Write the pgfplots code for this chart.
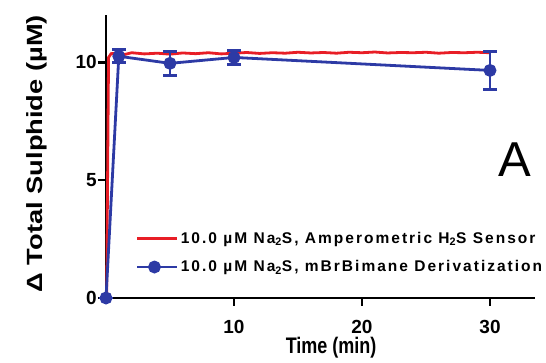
\documentclass[border=0pt]{standalone}
\usepackage{pgfplots}
\pgfplotsset{compat=1.18}
\usepackage{fontspec}
\setmainfont{Liberation Sans}
\newfontfamily\legfont[LetterSpace=13]{Liberation Sans}
\definecolor{cred}{RGB}{232,30,38}
\definecolor{cblue}{RGB}{45,58,165}
\begin{document}
\begin{tikzpicture}
\path[use as bounding box] (-106pt,-65pt) rectangle (440pt,298pt);
\begin{axis}[
  scale only axis, width=428.8pt, height=283pt,
  xmin=0, xmax=33.5, ymin=0, ymax=12,
  axis lines=left,
  axis line style={-, line width=2.8pt, black},
  clip=false,
  xtick={10,20,30}, ytick={0,5,10},
  tick align=outside, major tick length=8pt,
  every tick/.style={line width=2.8pt, black},
  /pgf/number format/assume math mode=true,
  tick label style={font=\bfseries\fontsize{19}{21}\selectfont},
  yticklabel style={inner sep=1pt},
  xticklabel style={inner sep=2pt, yshift=-12pt},
  xlabel={\scalebox{1}[1.25]{\fontsize{18}{20}\selectfont Time (min)}},
  ylabel={\scalebox{1.24}[1]{\fontsize{22}{24}\selectfont Δ Total Sulphide (µM)}},
  label style={font=\bfseries},
  xlabel style={at={(axis description cs:0.525,0)}, anchor=center, yshift=-50pt},
  ylabel style={at={(axis description cs:-0.161,0.51)}, anchor=center},
  legend style={at={(axis cs:2.1,2.98)}, anchor=north west, draw=none, fill=none,
     font=\legfont\bfseries\fontsize{15.5}{17}\selectfont, row sep=12pt},
  legend cell align=left,
  legend image code/.code={\draw[#1,mark repeat=2,mark phase=2] plot coordinates {(0pt,0pt) (17pt,0pt) (34pt,0pt)};\path (0pt,0pt) -- (40pt,0pt);},
]
\addplot[cred, line width=2.8pt, no marks] coordinates {
 (0.05,0) (0.2,10.2) (0.4,10.36) (0.8,10.38) (1.5,10.33) (2,10.4) (3,10.35) (4,10.38)
 (5,10.34) (6,10.39) (7,10.36) (8,10.4) (9,10.35) (10,10.38) (11,10.41) (12,10.37)
 (13,10.4) (14,10.38) (15,10.42) (16,10.39) (17,10.41) (18,10.38) (19,10.42) (20,10.4)
 (21,10.43) (22,10.39) (23,10.41) (24,10.4) (25,10.42) (26,10.38) (27,10.41) (28,10.4)
 (29,10.42) (30,10.4)
};
\addlegendentry{10.0 µM Na\textsubscript{2}S, Amperometric H\textsubscript{2}S Sensor}
\addplot[cblue, line width=2.8pt, mark=*, mark size=5pt,
  error bars/.cd, y dir=both, y explicit,
  error bar style={line width=2.8pt, cblue},
  error mark options={rotate=90, mark size=7pt, line width=2.8pt, cblue}]
  coordinates {
 (0,0) +- (0,0)
 (1,10.25) +- (0,0.28)
 (5,9.95) +- (0,0.5)
 (10,10.2) +- (0,0.3)
 (30,9.65) +- (0,0.8)
};
\addlegendentry{10.0 µM Na\textsubscript{2}S, mBrBimane Derivatization}
\node[font=\fontsize{49}{55}\selectfont] at (axis cs:31.95,5.85) {A};
\end{axis}
\end{tikzpicture}
\end{document}
